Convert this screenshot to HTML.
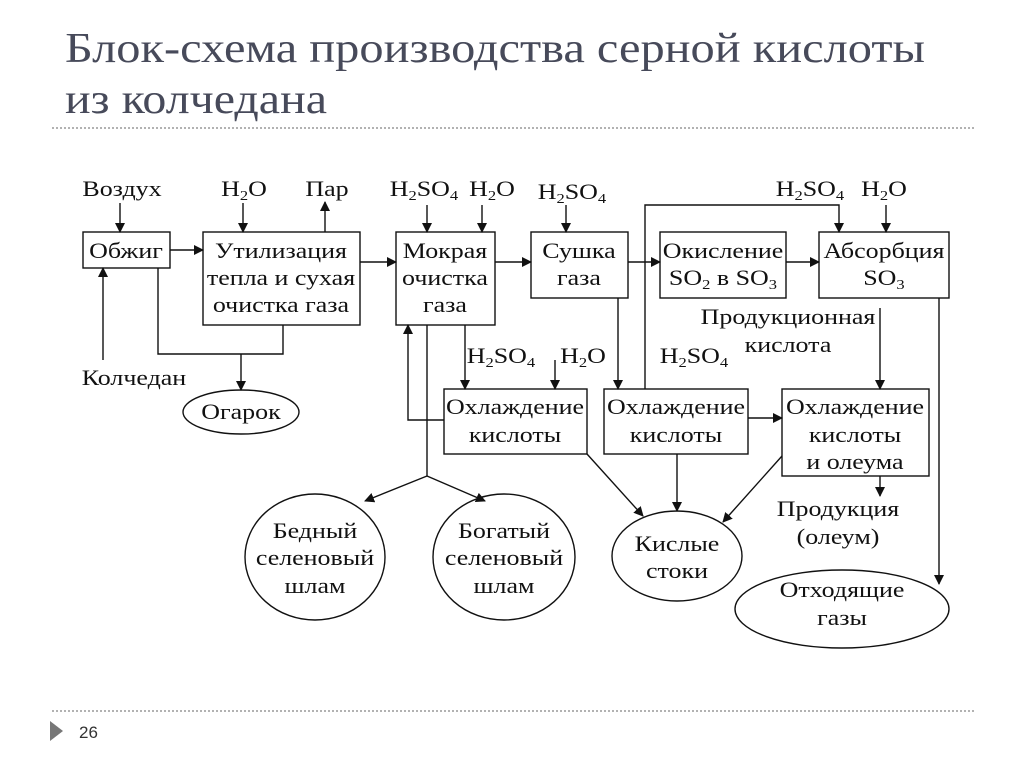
<!DOCTYPE html>
<html><head><meta charset="utf-8"><style>
html,body{margin:0;padding:0;background:#fff;}
svg{display:block}
.t text{font-family:"Liberation Serif","DejaVu Serif",serif;font-size:22px;fill:#111;transform-box:fill-box;transform-origin:center;transform:scaleX(1.18);}
.s{font-size:14px;}
</style></head><body>
<svg width="1024" height="768" viewBox="0 0 1024 768" xmlns="http://www.w3.org/2000/svg">
<defs>
<marker id="a" markerWidth="10" markerHeight="10" refX="9" refY="5" orient="auto" markerUnits="userSpaceOnUse">
<path d="M0,0 L10,5 L0,10 z" fill="#111"/></marker>
</defs>
<g font-family="Liberation Serif, DejaVu Serif, serif" fill="#474a5a">
<text x="65" y="62" font-size="42" textLength="860" lengthAdjust="spacingAndGlyphs">Блок-схема производства серной кислоты</text>
<text x="65" y="113" font-size="42" textLength="262" lengthAdjust="spacingAndGlyphs">из колчедана</text>
</g>
<line x1="52" y1="128" x2="975" y2="128" stroke="#999" stroke-width="1.5" stroke-dasharray="2,2"/>
<line x1="52" y1="711" x2="975" y2="711" stroke="#999" stroke-width="1.5" stroke-dasharray="2,2"/>
<path d="M50,721 L63,731 L50,741 z" fill="#777"/>
<text x="79" y="738" font-family="Liberation Sans, sans-serif" font-size="17" fill="#333">26</text>

<g fill="none" stroke="#111" stroke-width="1.4">
<rect x="83" y="232" width="87" height="36"/>
<rect x="203" y="232" width="157" height="93"/>
<rect x="396" y="232" width="99" height="93"/>
<rect x="531" y="232" width="97" height="66"/>
<rect x="660" y="232" width="126" height="66"/>
<rect x="819" y="232" width="130" height="66"/>
<rect x="444" y="389" width="143" height="65"/>
<rect x="604" y="389" width="144" height="65"/>
<rect x="782" y="389" width="147" height="87"/>
<ellipse cx="241" cy="412" rx="58" ry="22"/>
<ellipse cx="315" cy="557" rx="70" ry="63"/>
<ellipse cx="504" cy="557" rx="71" ry="63"/>
<ellipse cx="677" cy="556" rx="65" ry="45"/>
<ellipse cx="842" cy="609" rx="107" ry="39"/>

<g marker-end="url(#a)">
<line x1="120" y1="203" x2="120" y2="232"/>
<line x1="103" y1="360" x2="103" y2="268"/>
<line x1="170" y1="250" x2="203" y2="250"/>
<line x1="243" y1="203" x2="243" y2="232"/>
<line x1="325" y1="232" x2="325" y2="202"/>
<line x1="241" y1="354" x2="241" y2="390"/>
<line x1="360" y1="262" x2="396" y2="262"/>
<line x1="427" y1="205" x2="427" y2="232"/>
<line x1="482" y1="205" x2="482" y2="232"/>
<line x1="495" y1="262" x2="531" y2="262"/>
<line x1="566" y1="205" x2="566" y2="232"/>
<line x1="628" y1="262" x2="660" y2="262"/>
<polyline points="645,389 645,205 839,205 839,232"/>
<line x1="886" y1="205" x2="886" y2="232"/>
<line x1="786" y1="262" x2="819" y2="262"/>
<line x1="618" y1="298" x2="618" y2="389"/>
<line x1="465" y1="325" x2="465" y2="389"/>
<line x1="555" y1="360" x2="555" y2="389"/>
<polyline points="444,420 408,420 408,325"/>
<line x1="427" y1="476" x2="365" y2="501"/>
<line x1="427" y1="476" x2="485" y2="501"/>
<line x1="587" y1="454" x2="643" y2="516"/>
<line x1="677" y1="454" x2="677" y2="511"/>
<line x1="782" y1="456" x2="723" y2="522"/>
<line x1="748" y1="418" x2="782" y2="418"/>
<line x1="880" y1="476" x2="880" y2="496"/>
<line x1="880" y1="308" x2="880" y2="389"/>
<line x1="939" y1="298" x2="939" y2="584"/>
</g>
<polyline points="158,268 158,354 283,354 283,325"/>
<line x1="427" y1="325" x2="427" y2="476"/>
</g>

<g class="t" text-anchor="middle">
<text x="122" y="196">Воздух</text>
<text x="134" y="385">Колчедан</text>
<text x="244" y="196">H<tspan class="s" dy="4">2</tspan><tspan dy="-4">O</tspan></text>
<text x="327" y="196">Пар</text>
<text x="424" y="196">H<tspan class="s" dy="4">2</tspan><tspan dy="-4">SO</tspan><tspan class="s" dy="4">4</tspan></text>
<text x="492" y="196">H<tspan class="s" dy="4">2</tspan><tspan dy="-4">O</tspan></text>
<text x="572" y="199">H<tspan class="s" dy="4">2</tspan><tspan dy="-4">SO</tspan><tspan class="s" dy="4">4</tspan></text>
<text x="810" y="196">H<tspan class="s" dy="4">2</tspan><tspan dy="-4">SO</tspan><tspan class="s" dy="4">4</tspan></text>
<text x="884" y="196">H<tspan class="s" dy="4">2</tspan><tspan dy="-4">O</tspan></text>
<text x="126" y="258">Обжиг</text>
<text x="281" y="258">Утилизация</text>
<text x="281" y="285">тепла и сухая</text>
<text x="281" y="312">очистка газа</text>
<text x="445" y="258">Мокрая</text>
<text x="445" y="285">очистка</text>
<text x="445" y="312">газа</text>
<text x="579" y="258">Сушка</text>
<text x="579" y="285">газа</text>
<text x="723" y="258">Окисление</text>
<text x="723" y="285">SO<tspan class="s" dy="4">2</tspan><tspan dy="-4"> в SO</tspan><tspan class="s" dy="4">3</tspan></text>
<text x="884" y="258">Абсорбция</text>
<text x="884" y="285">SO<tspan class="s" dy="4">3</tspan></text>
<text x="788" y="324">Продукционная</text>
<text x="788" y="352">кислота</text>
<text x="501" y="363">H<tspan class="s" dy="4">2</tspan><tspan dy="-4">SO</tspan><tspan class="s" dy="4">4</tspan></text>
<text x="583" y="363">H<tspan class="s" dy="4">2</tspan><tspan dy="-4">O</tspan></text>
<text x="694" y="363">H<tspan class="s" dy="4">2</tspan><tspan dy="-4">SO</tspan><tspan class="s" dy="4">4</tspan></text>
<text x="241" y="419">Огарок</text>
<text x="515" y="414">Охлаждение</text>
<text x="515" y="442">кислоты</text>
<text x="676" y="414">Охлаждение</text>
<text x="676" y="442">кислоты</text>
<text x="855" y="414">Охлаждение</text>
<text x="855" y="442">кислоты</text>
<text x="855" y="469">и олеума</text>
<text x="838" y="516">Продукция</text>
<text x="838" y="544">(олеум)</text>
<text x="315" y="538">Бедный</text>
<text x="315" y="565">селеновый</text>
<text x="315" y="593">шлам</text>
<text x="504" y="538">Богатый</text>
<text x="504" y="565">селеновый</text>
<text x="504" y="593">шлам</text>
<text x="677" y="551">Кислые</text>
<text x="677" y="578">стоки</text>
<text x="842" y="597">Отходящие</text>
<text x="842" y="625">газы</text>
</g>
</svg>
</body></html>
